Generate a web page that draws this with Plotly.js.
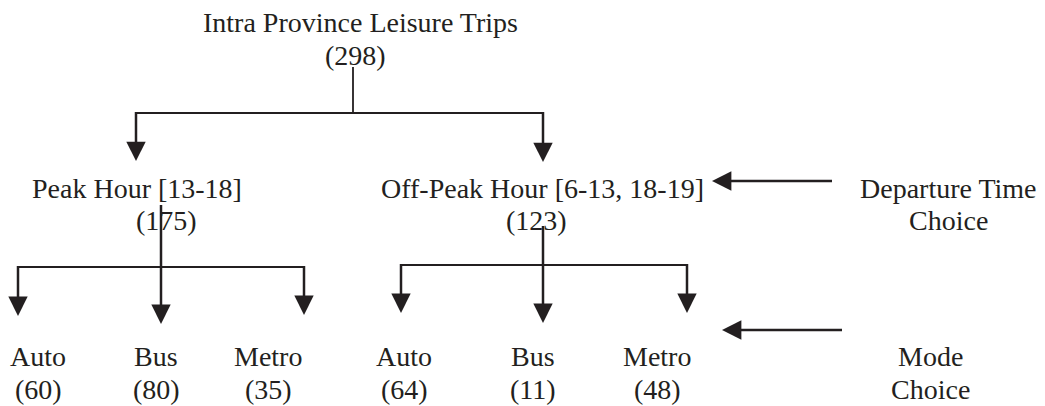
<!DOCTYPE html>
<html>
<head>
<meta charset="utf-8">
<script src="https://cdn.plot.ly/plotly-3.0.1.min.js"></script>
<style>html,body{margin:0;padding:0;background:#fff;}#chart{width:1045px;height:406px;}</style>
</head>
<body>
<div id="chart"></div>
<script>
// ---- data ----
const rootLabel = 'Intra Province Leisure Trips';
const rootCount = 298;
const timeLabels = ['Peak Hour [13-18]', 'Off-Peak Hour [6-13, 18-19]'];
const timeCounts = [175, 123];
const modeLabels = ['Auto', 'Bus', 'Metro'];
const modeCountsPeak = [60, 80, 35];
const modeCountsOffPeak = [64, 11, 48];
const levelLabels = [['Departure Time', 'Choice'], ['Mode', 'Choice']];

// ---- layout geometry (pixels, y downward) ----
const INK = '#231f20';
const FONT = {family: 'Liberation Serif, Times New Roman, serif', size: 28, color: INK};
const root = {x: 353, lineTop: 67, bar: 113, textX: 360, countX: 355, y1: 22, y2: 55};
const timeNodes = [
  {arrowX: 136, tip: 161, textX: 137, countX: 166, stemX: 161, stemTop: 205, bar: 267,
   childArrowX: [18, 161, 304], childTip: [316, 324, 315], childTextX: [38, 156, 268]},
  {arrowX: 543, tip: 162, textX: 542, countX: 536, stemX: 543, stemTop: 226, bar: 265,
   childArrowX: [401, 543, 687], childTip: [313, 323, 313], childTextX: [404, 533, 657]}
];
const timeY = [188, 220];
const modeY = [356, 389];
const levelArrows = [{from: 832, to: 712, y: 181}, {from: 842, to: 722, y: 330}];
const levelTextX = [948, 930];
const levelTextY = [[188, 220], [356, 389]];
const HEAD = 16;

const traces = [];
const annotations = [];
function seg(x0, y0, x1, y1, w) {
  traces.push({x: [x0, x1], y: [y0, y1], mode: 'lines', line: {color: INK, width: w},
    hoverinfo: 'skip', showlegend: false});
}
function head(x, y, dx, dy) {
  // arrowhead pointing to (x,y); tail placed a short way back along the shaft
  annotations.push({x: x, y: y, ax: x - dx * HEAD, ay: y - dy * HEAD, xref: 'x', yref: 'y',
    axref: 'x', ayref: 'y', text: '', showarrow: true, arrowhead: 2, arrowsize: 1.55,
    arrowwidth: 2.5, arrowcolor: INK, standoff: 0, startstandoff: 0});
}
function label(txt, x, y) {
  annotations.push({x: x, y: y, xref: 'x', yref: 'y', text: txt, showarrow: false,
    xanchor: 'center', yanchor: 'middle', font: FONT});
}

// root
label(rootLabel, root.textX, root.y1);
label('(' + rootCount + ')', root.countX, root.y2);
seg(root.x, root.lineTop, root.x, root.bar, 1.8);
seg(timeNodes[0].arrowX, root.bar, timeNodes[1].arrowX, root.bar, 2.2);

const modeCounts = [modeCountsPeak, modeCountsOffPeak];
timeNodes.forEach((n, i) => {
  seg(n.arrowX, root.bar - 1, n.arrowX, n.tip - 8, 2.5);
  head(n.arrowX, n.tip, 0, 1);
  label(timeLabels[i], n.textX, timeY[0]);
  label('(' + timeCounts[i] + ')', n.countX, timeY[1]);
  // stem down to the middle child
  seg(n.stemX, n.stemTop, n.stemX, n.childTip[1] - 8, 2.5);
  seg(n.childArrowX[0], n.bar, n.childArrowX[2], n.bar, 2.2);
  modeLabels.forEach((m, j) => {
    if (j !== 1) seg(n.childArrowX[j], n.bar - 1, n.childArrowX[j], n.childTip[j] - 8, 2.5);
    head(n.childArrowX[j], n.childTip[j], 0, 1);
    label(m, n.childTextX[j], modeY[0]);
    label('(' + modeCounts[i][j] + ')', n.childTextX[j], modeY[1]);
  });
});

// level indicators on the right
levelArrows.forEach((a, k) => {
  seg(a.from, a.y, a.to + 8, a.y, 2.5);
  head(a.to, a.y, -1, 0);
  label(levelLabels[k][0], levelTextX[k], levelTextY[k][0]);
  label(levelLabels[k][1], levelTextX[k], levelTextY[k][1]);
});

const layout = {
  width: 1045, height: 406,
  margin: {l: 0, r: 0, t: 0, b: 0},
  paper_bgcolor: '#fff', plot_bgcolor: '#fff',
  xaxis: {range: [0, 1045], visible: false, fixedrange: true},
  yaxis: {range: [406, 0], visible: false, fixedrange: true},
  annotations: annotations,
  showlegend: false
};
Plotly.newPlot('chart', traces, layout, {staticPlot: true, displayModeBar: false});
</script>
</body>
</html>
